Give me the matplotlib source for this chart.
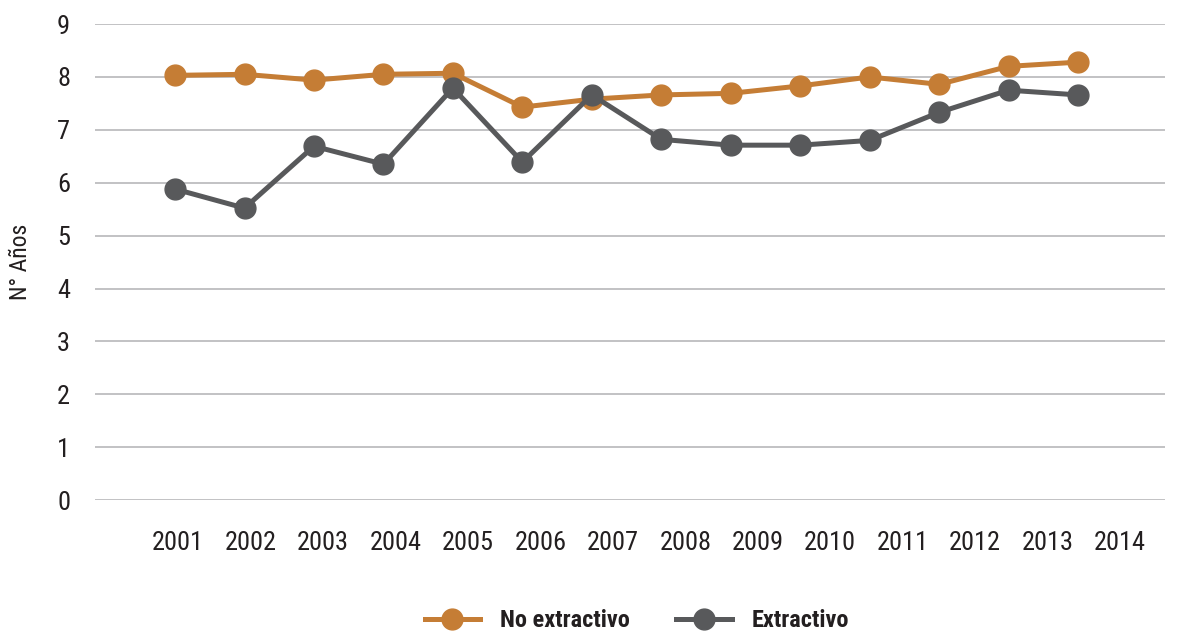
import matplotlib
matplotlib.use("Agg")
import matplotlib.pyplot as plt
from matplotlib import font_manager as fm
import numpy as np

years = ["2001", "2002", "2003", "2004", "2005", "2006", "2007",
         "2008", "2009", "2010", "2011", "2012", "2013", "2014"]
no_extractivo = [8.03, 8.05, 7.94, 8.05, 8.07, 7.43, 7.58, 7.66, 7.69, 7.83, 8.00, 7.86, 8.20, 8.28]
extractivo = [5.88, 5.52, 6.69, 6.35, 7.79, 6.39, 7.66, 6.82, 6.71, 6.71, 6.80, 7.33, 7.75, 7.66]


def find_condensed(bold):
    cands = []
    for f in fm.fontManager.ttflist:
        nm = f.name.lower()
        st = str(f.stretch).lower()
        cond = ("narrow" in nm or "condensed" in nm or "condensed" in st or "narrow" in st
                or "condensed" in f.fname.lower() or "narrow" in f.fname.lower())
        if not cond:
            continue
        w = f.weight if isinstance(f.weight, int) else (700 if "bold" in str(f.weight) else 400)
        if bold != (w >= 600):
            continue
        if f.style != "normal":
            continue
        pri = 0 if "liberation" in nm else (1 if "roboto" in nm else (2 if "dejavu sans" == nm else 3))
        if "mono" in nm or "serif" in nm:
            pri += 10
        cands.append((pri, f.fname))
    cands.sort()
    return cands[0][1] if cands else None


reg_file = find_condensed(False)
bold_file = find_condensed(True)


def fp(size, bold=False):
    f = bold_file if bold else reg_file
    if f:
        return fm.FontProperties(fname=f, size=size)
    return fm.FontProperties(family="DejaVu Sans", size=size * 0.85,
                             weight="bold" if bold else "normal")


text_color = "#231F20"
orange = "#C57D35"
grey = "#58595B"

fig = plt.figure(figsize=(11.79, 6.33), dpi=100)
ax = fig.add_axes([0.0806, 0.21, 0.9074, 0.752])

x = np.arange(len(years))
ax.plot(x, no_extractivo, color=orange, lw=3.6, marker="o", ms=15, label="No extractivo", zorder=3)
ax.plot(x, extractivo, color=grey, lw=3.6, marker="o", ms=15, label="Extractivo", zorder=4)

ax.set_ylim(0, 9)
ax.set_xlim(-1.152, 14.25)
ax.set_yticks(range(0, 10))
ax.yaxis.grid(True, color="#BDBDBF", lw=1.3)
ax.set_axisbelow(True)

# category labels positioned slightly differently from the points (as in the reference)
label_pos = (3 + 72.46 * x) / 69.46
ax.set_xticks(label_pos)
ax.set_xticklabels(years)
ax.tick_params(axis="x", length=0, pad=22, labelcolor=text_color)
ax.tick_params(axis="y", length=0, pad=18, labelcolor=text_color)
for lab in ax.get_xticklabels() + ax.get_yticklabels():
    lab.set_fontproperties(fp(19))
for s in ax.spines.values():
    s.set_visible(False)

ax.set_ylabel("N° Años", fontproperties=fp(17), color=text_color, labelpad=18)

leg = fig.legend(loc="lower center", bbox_to_anchor=(0.54, -0.033), ncol=2, frameon=False,
                 prop=fp(17.5, bold=True), handlelength=2.3, columnspacing=1.9,
                 handletextpad=0.8)
for t in leg.get_texts():
    t.set_color(text_color)

fig.savefig("out.png", dpi=100)
